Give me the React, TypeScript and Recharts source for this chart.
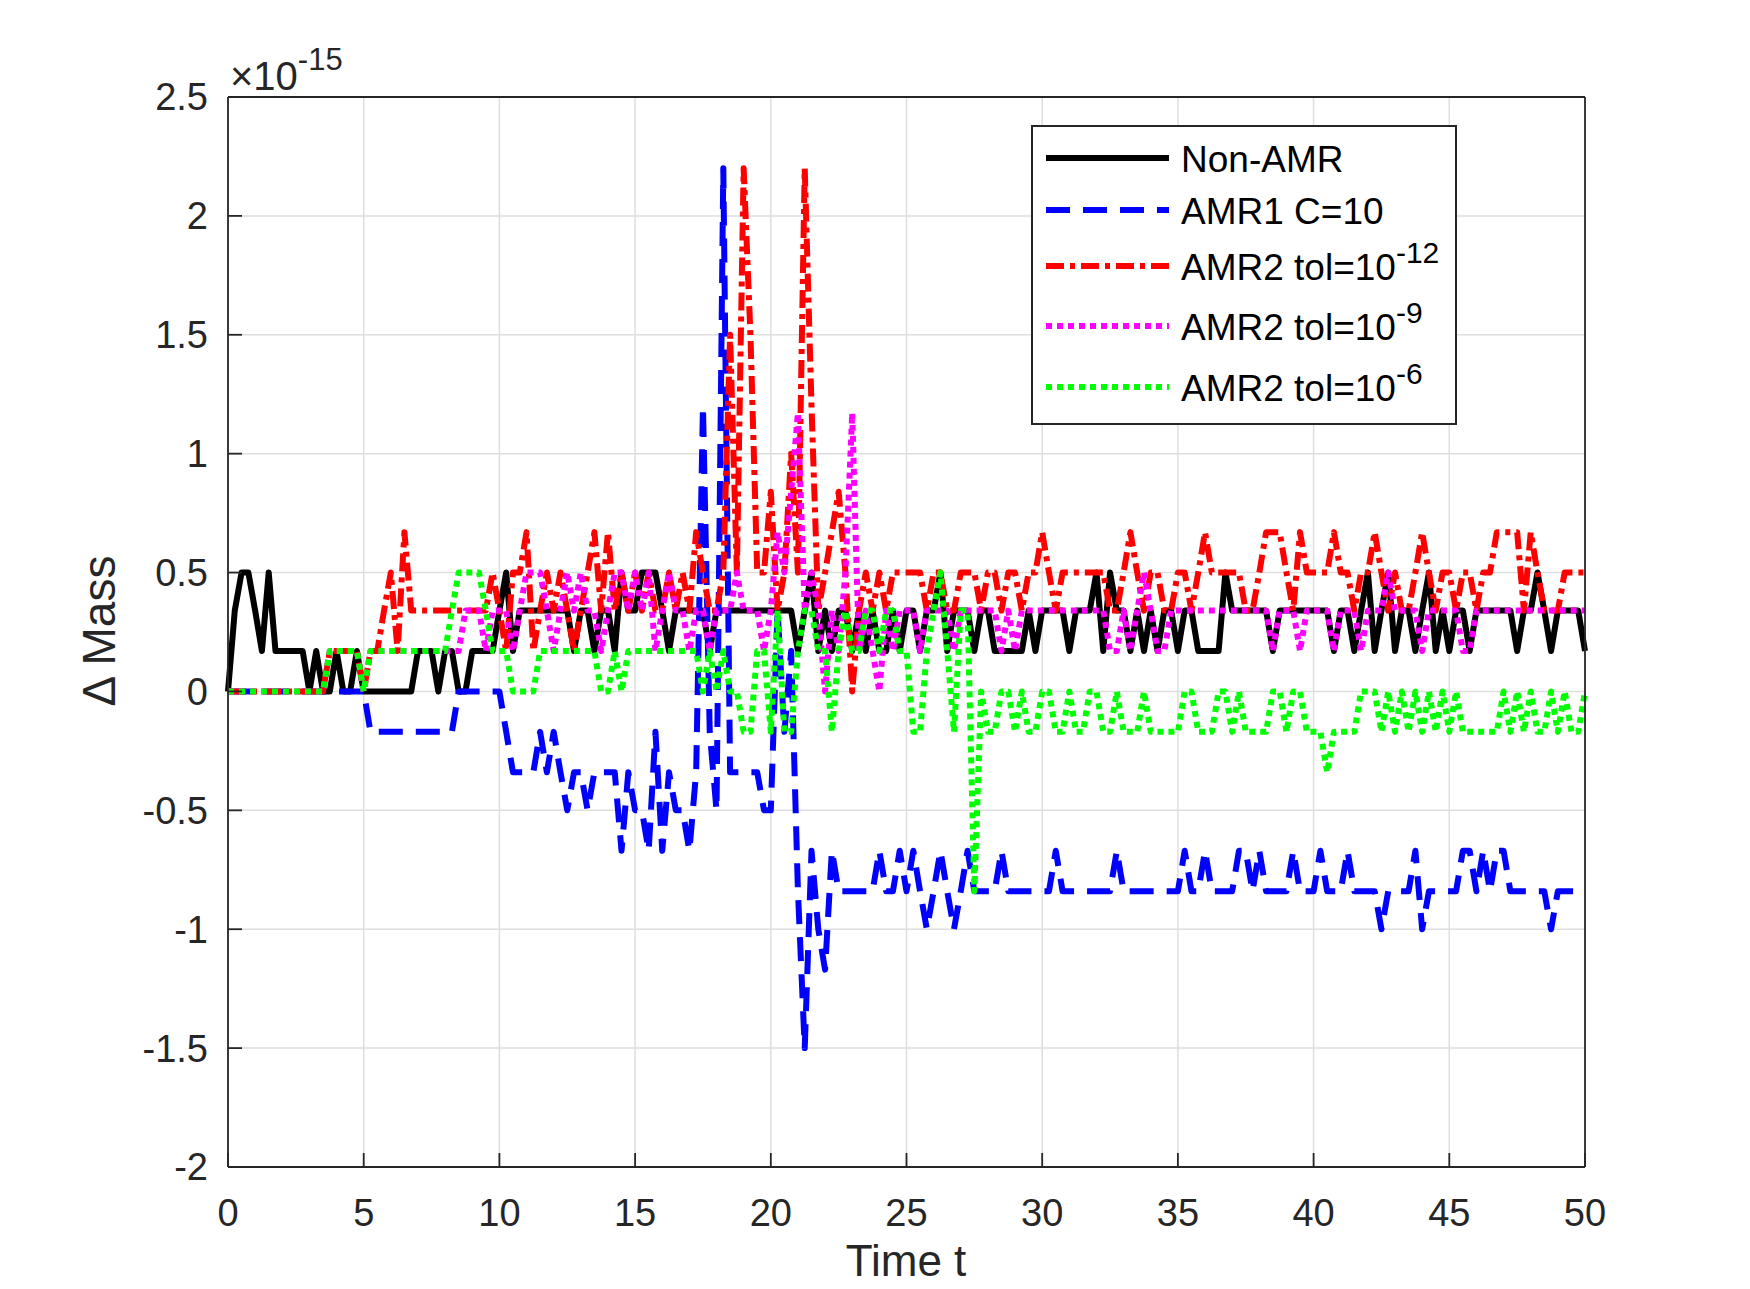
import { LineChart, Line, XAxis, YAxis, CartesianGrid } from 'recharts';

// sampling step of the time series (0 .. 50)
const STEP = 0.25;

// values in units of 1e-15, one row per 5 time units
const NON_AMR = [
  0, .34, .5, .5, .34, .17, .5, .17, .17, .17, .17, .17, 0, .17, 0, 0, .17, 0, 0, .17,
  0, 0, 0, 0, 0, 0, 0, 0, .17, .17, .17, 0, .17, .17, 0, 0, .17, .17, .17, .17,
  .34, .5, .17, .34, .34, .34, .34, .34, .34, .34, .34, .17, .34, .34, .17, .34, .34, .17, .5, .34,
  .34, .5, .5, .5, .34, .17, .34, .34, .34, .34, .34, .17, .34, .34, .34, .34, .34, .34, .34, .34,
  .34, .34, .34, .34, .17, .34, .5, .17, .34, .17, .34, .34, .17, .34, .17, .34, .17, .17, .34, .17,
  .34, .34, .17, .34, .34, .5, .17, .34, .34, .34, .17, .34, .34, .17, .17, .17, .17, .17, .34, .17,
  .34, .34, .34, .34, .17, .34, .34, .34, .5, .17, .5, .34, .34, .17, .34, .17, .34, .17, .34, .34,
  .17, .34, .34, .17, .17, .17, .17, .5, .34, .34, .34, .34, .34, .34, .17, .34, .34, .34, .34, .34,
  .34, .34, .34, .17, .34, .34, .17, .34, .5, .17, .34, .5, .17, .34, .34, .17, .34, .5, .17, .34,
  .17, .34, .34, .17, .34, .34, .34, .34, .34, .34, .17, .34, .34, .5, .34, .17, .34, .34, .34, .34,
  .17,
];

const AMR1_C10 = [
  0, 0, 0, 0, 0, 0, 0, 0, 0, 0, 0, 0, 0, 0, 0, 0, 0, 0, 0, 0,
  0, -.17, -.17, -.17, -.17, -.17, -.17, -.17, -.17, -.17, -.17, -.17, -.17, -.17, 0, 0, 0, 0, 0, 0,
  0, -.17, -.34, -.34, -.34, -.34, -.17, -.34, -.17, -.34, -.5, -.34, -.34, -.5, -.34, -.34, -.34, -.34, -.67, -.34,
  -.5, -.5, -.67, -.17, -.67, -.34, -.5, -.5, -.67, -.34, 1.2, -.17, -.5, 2.2, -.34, -.34, -.34, -.34, -.34, -.5,
  -.5, .34, -.17, .17, -.84, -1.5, -.67, -1.0, -1.17, -.67, -.84, -.84, -.84, -.84, -.84, -.84, -.67, -.84, -.84, -.67,
  -.84, -.67, -.84, -1.0, -.84, -.67, -.84, -1.0, -.84, -.67, -.84, -.84, -.84, -.84, -.67, -.84, -.84, -.84, -.84, -.84,
  -.84, -.84, -.67, -.84, -.84, -.84, -.84, -.84, -.84, -.84, -.84, -.67, -.84, -.84, -.84, -.84, -.84, -.84, -.84, -.84,
  -.84, -.67, -.84, -.84, -.67, -.84, -.84, -.84, -.84, -.67, -.67, -.84, -.67, -.84, -.84, -.84, -.84, -.67, -.84, -.84,
  -.84, -.67, -.84, -.84, -.84, -.67, -.84, -.84, -.84, -.84, -1.0, -.84, -.84, -.84, -.84, -.67, -1.0, -.84, -.84, -.84,
  -.84, -.84, -.67, -.67, -.84, -.67, -.84, -.67, -.67, -.84, -.84, -.84, -.84, -.84, -.84, -1.0, -.84, -.84, -.84, -.84,
  -.84,
];

const AMR2_TOL12 = [
  0, 0, 0, 0, 0, 0, 0, 0, 0, 0, 0, 0, 0, 0, 0, .17, .17, .17, .17, .17,
  0, .17, .17, .34, .5, .17, .67, .34, .34, .34, .34, .34, .34, .34, .34, .34, .34, .34, .34, .5,
  .34, .17, .5, .5, .67, .17, .34, .5, .34, .5, .34, .17, .34, .5, .67, .34, .67, .34, .5, .34,
  .5, .34, .5, .34, .34, .5, .34, .5, .34, .67, .5, .34, .34, .5, 1.5, .5, 2.2, 1.5, .5, .5,
  .84, .34, .5, 1.0, .5, 2.2, 1.2, .34, .5, .67, .84, .5, 0, .34, .5, .34, .5, .34, .5, .5,
  .5, .5, .5, .34, .5, .5, .34, .34, .5, .5, .5, .34, .5, .5, .34, .5, .5, .34, .5, .5,
  .67, .5, .34, .5, .5, .5, .5, .5, .5, .5, .34, .34, .5, .67, .5, .34, .5, .5, .34, .34,
  .5, .5, .34, .5, .67, .5, .5, .5, .5, .5, .34, .34, .5, .67, .67, .67, .5, .34, .67, .5,
  .5, .5, .5, .67, .5, .5, .34, .5, .5, .67, .5, .34, .5, .34, .34, .5, .67, .5, .34, .5,
  .5, .34, .5, .5, .34, .5, .5, .67, .67, .67, .67, .34, .67, .5, .34, .34, .34, .5, .5, .5,
  .5,
];

const AMR2_TOL9 = [
  0, 0, 0, 0, 0, 0, 0, 0, 0, 0, 0, 0, 0, 0, 0, .17, .17, .17, .17, .17,
  0, .17, .17, .17, .17, .17, .17, .17, .17, .17, .17, .17, .17, .17, .17, .34, .34, .34, .17, .34,
  .34, .34, .17, .34, .5, .5, .5, .34, .17, .34, .5, .34, .5, .34, .34, .17, .34, .5, .5, .34,
  .5, .34, .5, .17, .34, .5, .34, .34, .17, .34, .34, .17, .34, .34, .34, .5, .34, .34, .34, .17,
  .34, .67, .5, .84, 1.17, .34, .5, .34, 0, .34, .17, .5, 1.17, .17, .34, .17, 0, .34, .17, .34,
  .34, .34, .17, .34, .34, .34, .34, .17, .34, .34, .34, .34, .34, .34, .17, .34, .17, .34, .34, .34,
  .34, .34, .34, .34, .34, .34, .34, .34, .34, .34, .17, .17, .34, .17, .34, .5, .34, .17, .17, .34,
  .34, .34, .34, .34, .34, .34, .34, .34, .34, .34, .34, .34, .34, .34, .17, .34, .34, .34, .17, .34,
  .34, .34, .34, .17, .34, .34, .34, .17, .34, .34, .34, .5, .34, .34, .34, .34, .17, .34, .34, .34,
  .34, .34, .17, .17, .34, .34, .34, .34, .34, .34, .34, .34, .34, .34, .34, .34, .34, .34, .34, .34,
  .34,
];

const AMR2_TOL6 = [
  0, 0, 0, 0, 0, 0, 0, 0, 0, 0, 0, 0, 0, 0, 0, .17, .17, .17, .17, .17,
  0, .17, .17, .17, .17, .17, .17, .17, .17, .17, .17, .17, .17, .34, .5, .5, .5, .5, .34, .17,
  .17, .17, 0, 0, 0, 0, .17, .17, .17, .17, .17, .17, .17, .17, .17, 0, 0, .17, 0, .17,
  .17, .17, .17, .17, .17, .17, .17, .17, .17, .17, 0, .17, 0, .17, 0, 0, -.17, -.17, .17, .17,
  -.17, .34, -.17, -.17, .17, .34, .34, .17, .17, -.17, .17, .34, .17, .17, .34, .34, .17, .34, .34, .17,
  .17, -.17, -.17, .17, .34, .5, .17, -.17, .34, .34, -.84, 0, -.17, -.17, 0, 0, -.17, 0, -.17, -.17,
  0, 0, -.17, -.17, 0, -.17, -.17, 0, 0, -.17, -.17, 0, -.17, -.17, -.17, 0, -.17, -.17, -.17, -.17,
  -.17, 0, 0, -.17, -.17, -.17, 0, 0, -.17, 0, -.17, -.17, -.17, -.17, 0, 0, -.17, 0, 0, -.17,
  -.17, -.17, -.34, -.17, -.17, -.17, -.17, 0, 0, 0, -.17, 0, -.17, 0, -.17, 0, -.17, 0, -.17, 0,
  -.17, 0, -.17, -.17, -.17, -.17, -.17, -.17, 0, -.17, 0, -.17, 0, -.17, -.17, 0, -.17, 0, -.17, -.17,
  0,
];

const TIME = NON_AMR.map((_, i) => i * STEP);
const X_TICKS = [0, 5, 10, 15, 20, 25, 30, 35, 40, 45, 50];
const Y_TICKS = [-2, -1.5, -1, -0.5, 0, 0.5, 1, 1.5, 2, 2.5];

const data = TIME.map((t, i) => ({
  t,
  nonAmr: NON_AMR[i],
  amr1: AMR1_C10[i],
  tol12: AMR2_TOL12[i],
  tol9: AMR2_TOL9[i],
  tol6: AMR2_TOL6[i],
}));

const SERIES = [
  { key: 'nonAmr', color: '#000000', dash: undefined, name: 'Non-AMR', sup: '' },
  { key: 'amr1', color: '#0000ff', dash: '24 13', name: 'AMR1 C=10', sup: '' },
  { key: 'tol12', color: '#ff0000', dash: '18 6 5 6', name: 'AMR2 tol=10', sup: '-12' },
  { key: 'tol9', color: '#ff00ff', dash: '6 5', name: 'AMR2 tol=10', sup: '-9' },
  { key: 'tol6', color: '#00ff00', dash: '6 5', name: 'AMR2 tol=10', sup: '-6' },
];

const FONT = '"Liberation Sans", Arial, Helvetica, sans-serif';
const AXIS = '#262626';
const LEGEND_ROWS = [158, 210, 266, 326, 387];

export default function App() {
  const tickStyle = { fontSize: 38, fill: AXIS, fontFamily: FONT };
  return (
    <div style={{ position: 'absolute', left: 0, top: 0, width: 1750, height: 1289, background: '#fff' }}>
      <LineChart width={1750} height={1289} data={data} margin={{ top: 96, right: 145, bottom: 22, left: 28 }}>
        <CartesianGrid stroke="#dedede" strokeWidth={1.5} />
        <XAxis
          dataKey="t"
          type="number"
          domain={[0, 50]}
          ticks={X_TICKS}
          height={100}
          tickSize={-14}
          tickMargin={46}
          tick={tickStyle}
          axisLine={{ stroke: AXIS, strokeWidth: 1.8 }}
          tickLine={{ stroke: AXIS, strokeWidth: 1.8 }}
        />
        <XAxis
          xAxisId="top"
          orientation="top"
          dataKey="t"
          type="number"
          domain={[0, 50]}
          ticks={X_TICKS}
          height={1}
          tickSize={-14}
          tick={false}
          axisLine={{ stroke: AXIS, strokeWidth: 1.8 }}
          tickLine={{ stroke: AXIS, strokeWidth: 1.8 }}
        />
        <YAxis
          type="number"
          domain={[-2, 2.5]}
          ticks={Y_TICKS}
          width={200}
          tickSize={-14}
          tickMargin={34}
          tick={tickStyle}
          axisLine={{ stroke: AXIS, strokeWidth: 1.8 }}
          tickLine={{ stroke: AXIS, strokeWidth: 1.8 }}
        />
        <YAxis
          yAxisId="right"
          orientation="right"
          type="number"
          domain={[-2, 2.5]}
          ticks={Y_TICKS}
          width={20}
          tickSize={-14}
          tick={false}
          axisLine={{ stroke: AXIS, strokeWidth: 1.8 }}
          tickLine={{ stroke: AXIS, strokeWidth: 1.8 }}
        />
        {SERIES.map((s) => (
          <Line
            key={s.key}
            dataKey={s.key}
            type="linear"
            stroke={s.color}
            strokeWidth={6}
            strokeDasharray={s.dash}
            strokeLinejoin="round"
            dot={false}
            activeDot={false}
            isAnimationActive={false}
          />
        ))}
      </LineChart>

      <svg width={1750} height={1289} style={{ position: 'absolute', left: 0, top: 0, pointerEvents: 'none' }}>
        <text x={230} y={90} fontSize={40} fill={AXIS} fontFamily={FONT}>
          ×10<tspan dy={-20} fontSize={31}>-15</tspan>
        </text>
        <text x={906} y={1276} fontSize={44} fill={AXIS} fontFamily={FONT} textAnchor="middle">
          Time t
        </text>
        <text transform="translate(115,631) rotate(-90)" fontSize={46} fill={AXIS} fontFamily={FONT} textAnchor="middle">
          Δ Mass
        </text>

        <rect x={1032} y={126} width={424} height={298} fill="#fff" stroke={AXIS} strokeWidth={2} />
        {SERIES.map((s, i) => (
          <g key={s.key}>
            <line
              x1={1046}
              x2={1169}
              y1={LEGEND_ROWS[i]}
              y2={LEGEND_ROWS[i]}
              stroke={s.color}
              strokeWidth={6}
              strokeDasharray={s.dash}
            />
            <text x={1181} y={LEGEND_ROWS[i] + 14} fontSize={37} fill="#000" fontFamily={FONT}>
              {s.name}
              {s.sup && (
                <tspan dy={-17} fontSize={30}>
                  {s.sup}
                </tspan>
              )}
            </text>
          </g>
        ))}
      </svg>
    </div>
  );
}
